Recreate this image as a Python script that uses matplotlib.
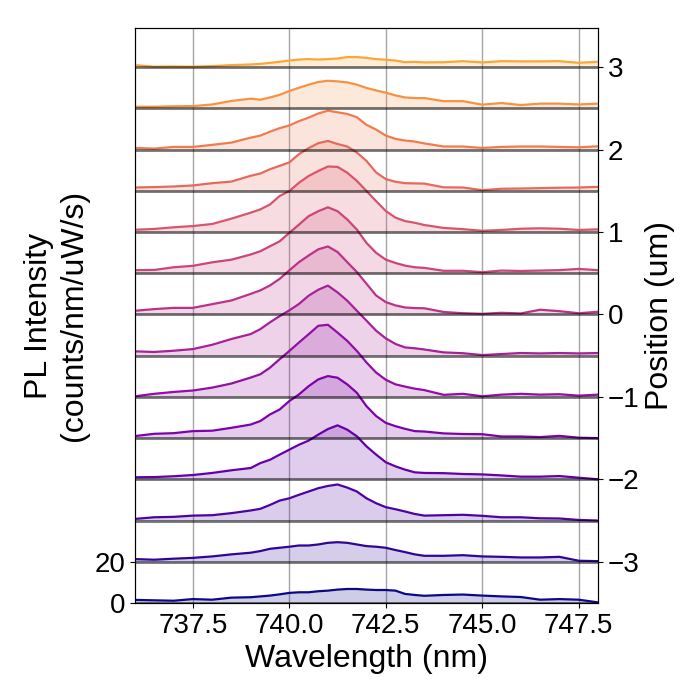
import numpy as np
import matplotlib
matplotlib.use('Agg')
import matplotlib.pyplot as plt

plt.rcParams['font.family'] = ['Liberation Sans', 'DejaVu Sans']

wavelength = [736.0, 736.5, 737.0, 737.5, 738.0, 738.5,
              739.0, 739.25, 739.5, 739.75, 740.0, 740.25, 740.5, 740.75, 741.0,
              741.25, 741.5, 741.75, 742.0, 742.25, 742.5, 742.75, 743.0, 743.25,
              743.5, 744.0, 744.5, 745.0, 745.5, 746.0, 746.5, 747.0, 747.5, 748.0]

positions = [-3.5, -3.0, -2.5, -2.0, -1.5, -1.0, -0.5, 0.0, 0.5, 1.0, 1.5, 2.0, 2.5, 3.0]

spec_m35 = [1.5, 1.3, 1.1, 1.9, 1.6, 2.6,
            2.8, 3.2, 3.6, 4.2, 4.9, 5.2, 5.2, 5.7, 6.0, 6.5, 6.8, 6.8, 6.5, 6.3, 6.3, 6.0, 4.4, 3.9,
            3.5, 3.9, 4.1, 3.6, 3.2, 2.9, 1.6, 1.9, 1.6, 0.3]
spec_m30 = [1.3, 1.0, 1.5, 1.9, 2.6, 3.6,
            4.4, 5.2, 6.3, 6.8, 7.3, 7.9, 7.9, 8.4, 9.2, 9.5, 9.2, 8.4, 7.6, 7.3, 6.8, 5.7, 4.7, 3.6,
            2.9, 2.9, 3.2, 2.6, 2.4, 2.1, 2.1, 2.4, 0.5, 0.3]
spec_m25 = [0.8, 1.6, 1.8, 2.4, 2.6, 3.6,
            4.9, 5.7, 7.6, 9.7, 10.8, 12.5, 14.1, 15.7, 16.8, 17.5, 16.0, 14.1, 10.8, 8.4, 6.5, 5.5, 4.4, 3.2,
            2.4, 2.6, 2.8, 2.3, 1.6, 1.6, 1.1, 1.0, 0.3, 0.0]
spec_m20 = [1.0, 1.1, 1.5, 2.1, 3.1, 4.4,
            5.5, 7.9, 9.5, 12.0, 14.4, 16.8, 18.8, 21.7, 24.4, 26.2, 24.1, 20.9, 16.0, 12.0, 8.3, 6.3, 4.7, 3.4,
            3.1, 3.0, 2.6, 2.4, 1.9, 1.3, 1.3, 1.6, 0.8, 0.0]
spec_m15 = [1.0, 2.1, 2.4, 3.4, 3.6, 5.0,
            6.6, 8.3, 11.5, 13.9, 18.0, 21.2, 25.2, 28.5, 30.1, 29.3, 26.1, 22.0, 15.5, 10.7, 7.4, 5.8, 4.5, 3.4,
            3.2, 2.3, 2.0, 1.9, 0.8, 0.8, 0.5, 1.1, 0.2, 0.0]
spec_m10 = [0.3, 1.5, 2.4, 3.1, 4.5, 6.5,
            9.4, 11.0, 14.2, 18.3, 22.3, 26.4, 30.4, 34.5, 35.0, 31.2, 27.2, 22.3, 16.7, 11.8, 8.3, 6.1, 5.0, 4.0,
            3.3, 1.0, 1.5, 0.3, 1.1, 1.5, 1.1, 1.3, 0.6, 1.1]
spec_m05 = [2.1, 1.8, 2.4, 3.2, 5.3, 8.1,
            10.5, 12.9, 16.2, 19.2, 22.0, 25.1, 29.1, 32.0, 34.0, 30.7, 26.7, 21.8, 17.0, 12.1, 8.4, 5.7, 4.0, 3.6,
            3.0, 1.6, 1.2, 0.3, 0.8, 1.3, 1.1, 1.3, 1.1, 1.3]
spec_p00 = [1.8, 2.6, 3.2, 3.2, 5.0, 6.8,
            10.0, 11.7, 14.1, 17.3, 21.4, 25.4, 28.6, 31.6, 33.0, 30.3, 25.4, 20.6, 14.9, 9.2, 6.0, 4.4, 3.4, 3.1,
            3.0, 1.2, 0.6, 0.3, 0.8, 0.5, 2.3, 1.6, 0.6, 1.3]
spec_p05 = [1.5, 1.6, 2.9, 3.6, 5.3, 6.6,
            9.1, 10.7, 13.1, 15.5, 19.6, 23.6, 27.7, 30.1, 32.0, 30.1, 26.1, 21.2, 14.7, 9.9, 6.6, 5.0, 3.7, 2.9,
            2.6, 1.2, 1.2, 0.5, 1.3, 1.1, 1.3, 1.5, 2.1, 1.5]
spec_p10 = [1.1, 1.5, 2.3, 2.9, 3.9, 6.5,
            9.4, 11.0, 13.4, 17.5, 19.9, 23.9, 27.2, 29.6, 31.8, 31.6, 28.8, 24.8, 19.9, 15.0, 10.2, 7.0, 5.3, 4.5,
            3.4, 2.0, 1.4, 0.6, 1.0, 1.6, 1.8, 1.6, 1.0, 1.3]
spec_p15 = [1.6, 1.8, 2.1, 2.6, 3.7, 4.5,
            7.3, 8.4, 10.5, 12.1, 13.8, 17.8, 20.7, 23.1, 24.2, 22.7, 21.5, 18.6, 14.5, 8.9, 5.7, 4.4, 3.7, 3.6,
            3.5, 1.7, 1.6, 0.3, 1.0, 1.1, 1.3, 1.5, 1.6, 1.9]
spec_p20 = [0.8, 0.5, 1.3, 1.3, 2.3, 3.4,
            5.8, 6.8, 8.7, 10.4, 11.7, 13.8, 15.5, 17.5, 18.9, 18.1, 17.3, 15.7, 12.0, 9.7, 6.8, 5.2, 4.4, 3.9,
            3.0, 1.5, 1.5, 0.8, 1.3, 1.5, 1.5, 1.3, 1.1, 1.6]
spec_p25 = [0.8, 0.8, 1.0, 1.1, 1.9, 3.6,
            4.7, 4.2, 5.3, 6.6, 8.4, 10.0, 11.5, 12.8, 13.4, 13.1, 12.6, 11.5, 9.9, 8.7, 7.6, 6.3, 5.3, 5.0,
            5.0, 3.5, 3.5, 1.8, 2.6, 1.6, 2.3, 2.3, 1.9, 2.3]
spec_p30 = [1.0, 0.2, 0.3, 0.2, 0.5, 1.0,
            1.3, 1.6, 2.1, 2.6, 3.2, 3.7, 3.9, 3.7, 3.9, 4.2, 4.9, 4.9, 4.5, 3.9, 3.6, 3.2, 2.4, 2.6,
            2.3, 2.4, 2.9, 2.3, 2.9, 2.8, 2.8, 2.9, 2.1, 2.6]

spectra = [spec_m35, spec_m30, spec_m25, spec_m20, spec_m15, spec_m10, spec_m05,
           spec_p00, spec_p05, spec_p10, spec_p15, spec_p20, spec_p25, spec_p30]

offset = 20.0
pos_step = 0.5
y_top = 279.0

fig = plt.figure(figsize=(7, 7), dpi=100)
ax = fig.add_axes([135/700, 1 - 603/700, (598 - 135)/700, (603 - 28)/700])

cmap = plt.get_cmap('plasma')
n = len(spectra)
wl = np.array(wavelength)
for i, s in enumerate(spectra):
    base = i * offset
    c = cmap(0.8 * i / (n - 1))
    y = base + np.array(s)
    ax.fill_between(wl, base, y, color=c, alpha=0.2, lw=0, zorder=2)
    ax.plot(wl, y, color=c, lw=1.6, zorder=3)
    ax.axhline(base, color='black', alpha=0.55, lw=2, zorder=4)

ax.set_xlim(736, 748)
ax.set_ylim(0, y_top)
ax.set_yticks([0, 20])
ax.grid(axis='x', color='gray', alpha=0.7, lw=1, zorder=1)
ax.set_axisbelow(True)
ax.tick_params(labelsize=20)
ax.set_xlabel('Wavelength (nm)', fontsize=23)
ax.set_ylabel('PL Intensity\n(counts/nm/uW/s)', fontsize=23)

ax2 = ax.twinx()
p0 = positions[0]
ax2.set_ylim(p0, p0 + y_top / offset * pos_step)
ax2.set_yticks([-3, -2, -1, 0, 1, 2, 3])
ax2.tick_params(labelsize=20)
ax2.set_ylabel('Position (um)', fontsize=23)

fig.savefig('out.png', dpi=100)
